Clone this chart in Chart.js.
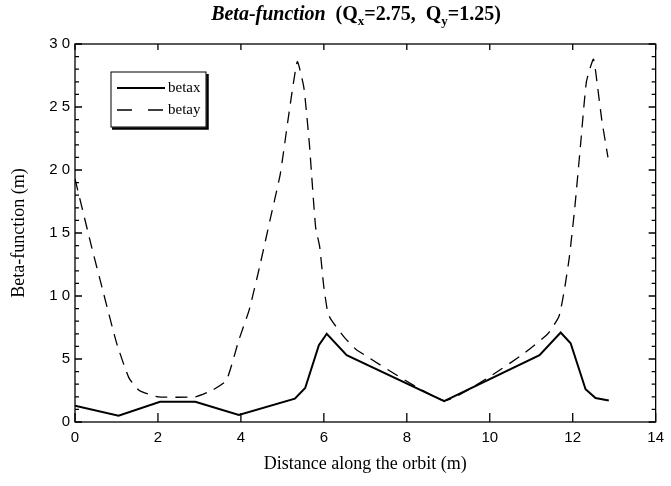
<!DOCTYPE html>
<html>
<head>
<meta charset="utf-8">
<script src="https://cdn.jsdelivr.net/npm/chart.js@4/dist/chart.umd.min.js"></script>
<style>
html, body { margin: 0; padding: 0; background: #fff; }
#wrap { position: relative; width: 671px; height: 486px; }
#title {
    position: absolute; left: 0; top: 2px; width: 712px;
    text-align: center; font: bold 20px "Liberation Serif", serif; color: #000;
    line-height: 22px;
}
#title sub { font-size: 13px; }
</style>
</head>
<body>
<div id="wrap">
    <canvas id="betaChart" width="671" height="486"></canvas>
    <div id="title"><i>Beta-function</i>&nbsp; (Q<sub>x</sub>=2.75,&nbsp; Q<sub>y</sub>=1.25)</div>
</div>
<script>
// Eixos
const xTicks = [0, 2, 4, 6, 8, 10, 12, 14];
const yTicks = [0, 5, 10, 15, 20, 25, 30];

// betax (linha cheia)
const betaxS = [0, 1.05, 2.05, 2.9, 3.95, 5.3, 5.55, 5.88, 6.07, 6.55, 8.9, 11.2, 11.71, 11.95, 12.31, 12.55, 12.87];
const betaxB = [1.3, 0.5, 1.6, 1.6, 0.55, 1.85, 2.7, 6.1, 7.0, 5.3, 1.65, 5.3, 7.1, 6.25, 2.6, 1.9, 1.7];

// betay (tracejada)
const betayS = [0, 0.4, 0.65, 1.0, 1.3, 1.55, 2.0, 2.9, 3.3, 3.65, 3.95, 4.2, 4.45, 4.7, 4.95, 5.15, 5.36, 5.52, 5.65, 5.8, 5.9, 6.0, 6.1, 6.2, 6.5, 6.8, 8.9, 10.0, 10.85, 11.4, 11.67, 11.8, 11.92, 12.05, 12.2, 12.33, 12.5, 12.6, 12.7, 12.85];
const betayB = [19.3, 13.9, 10.7, 6.3, 3.5, 2.5, 2.0, 2.0, 2.5, 3.3, 6.5, 8.9, 12.3, 16, 19.7, 24.3, 28.6, 26.5, 22.1, 15.5, 13.9, 10.7, 8.6, 8.0, 6.7, 5.7, 1.7, 3.6, 5.5, 7.0, 8.4, 10.5, 13.1, 17, 22.4, 27, 28.8, 26.6, 24, 21];

const seriesLabels = ['betax', 'betay'];

function toPoints(s, b) {
    return s.map((v, i) => ({ x: v, y: b[i] }));
}

// Moldura, ticks para dentro e legenda
const framePlugin = {
    id: 'framePlugin',
    afterDatasetsDraw(chart) {
        const { ctx, chartArea: a, scales: { x, y } } = chart;
        ctx.save();
        ctx.strokeStyle = '#000';
        ctx.lineWidth = 1.3;
        ctx.setLineDash([]);
        ctx.strokeRect(a.left, a.top, a.right - a.left, a.bottom - a.top);

        ctx.beginPath();
        xTicks.forEach(v => {
            const px = x.getPixelForValue(v);
            ctx.moveTo(px, a.bottom); ctx.lineTo(px, a.bottom - 9);
            ctx.moveTo(px, a.top); ctx.lineTo(px, a.top + 6);
        });
        for (let v = 0; v <= 30; v++) {
            const py = y.getPixelForValue(v);
            const len = v % 5 === 0 ? 7 : 4;
            ctx.moveTo(a.left, py); ctx.lineTo(a.left + len, py);
            ctx.moveTo(a.right, py); ctx.lineTo(a.right - len, py);
        }
        ctx.stroke();

        // legenda
        const bx = 111, by = 72, bw = 95, bh = 55;
        ctx.fillStyle = '#fff';
        ctx.fillRect(bx, by, bw, bh);
        ctx.lineWidth = 1;
        ctx.strokeRect(bx, by, bw, bh);
        ctx.lineWidth = 2.5;
        ctx.beginPath();
        ctx.moveTo(bx + 1, by + bh + 1.5); ctx.lineTo(bx + bw + 1.5, by + bh + 1.5);
        ctx.lineTo(bx + bw + 1.5, by + 2);
        ctx.stroke();

        ctx.font = '15px "Liberation Serif", serif';
        ctx.fillStyle = '#000';
        ctx.textBaseline = 'middle';
        chart.data.datasets.forEach((ds, i) => {
            const ly = by + 16 + i * 22;
            ctx.lineWidth = ds.borderWidth;
            ctx.setLineDash(ds.borderDash ? [15, 16] : []);
            ctx.beginPath();
            ctx.moveTo(bx + 6, ly); ctx.lineTo(bx + 54, ly);
            ctx.stroke();
            ctx.setLineDash([]);
            ctx.fillText(ds.label, bx + 57, ly);
        });
        ctx.restore();
    }
};

new Chart(document.getElementById('betaChart').getContext('2d'), {
    type: 'line',
    data: {
        datasets: [{
            label: seriesLabels[0],
            data: toPoints(betaxS, betaxB),
            borderColor: '#000',
            borderWidth: 2,
            pointRadius: 0,
            tension: 0
        }, {
            label: seriesLabels[1],
            data: toPoints(betayS, betayB),
            borderColor: '#000',
            borderWidth: 1.3,
            borderDash: [12, 8],
            pointRadius: 0,
            tension: 0.15
        }]
    },
    options: {
        responsive: false,
        animation: false,
        layout: { padding: { top: 44, right: 12, left: 0, bottom: 0 } },
        plugins: {
            legend: { display: false },
            title: { display: false },
            tooltip: { enabled: false }
        },
        scales: {
            x: {
                type: 'linear',
                min: 0, max: 14,
                afterFit: s => { s.height = 64; },
                afterBuildTicks: s => { s.ticks = xTicks.map(v => ({ value: v })); },
                grid: { display: false, drawTicks: false },
                border: { display: false },
                ticks: {
                    color: '#000', padding: 7,
                    font: { family: '"Liberation Sans", sans-serif', size: 15 }
                },
                title: {
                    display: true, text: 'Distance along the orbit (m)', color: '#000',
                    font: { family: '"Liberation Serif", serif', size: 18 },
                    padding: { top: 11, bottom: 11 }
                }
            },
            y: {
                min: 0, max: 30,
                afterFit: s => { s.width = 75; },
                afterBuildTicks: s => { s.ticks = yTicks.map(v => ({ value: v })); },
                grid: { display: false, drawTicks: false },
                border: { display: false },
                ticks: {
                    color: '#000', padding: 5,
                    font: { family: '"Liberation Sans", sans-serif', size: 15 },
                    callback: v => String(v).split('').join(' ')
                },
                title: {
                    display: true, text: 'Beta-function (m)', color: '#000',
                    font: { family: '"Liberation Serif", serif', size: 18 },
                    padding: { top: 8, bottom: 8 }
                }
            }
        }
    },
    plugins: [framePlugin]
});
</script>
</body>
</html>
